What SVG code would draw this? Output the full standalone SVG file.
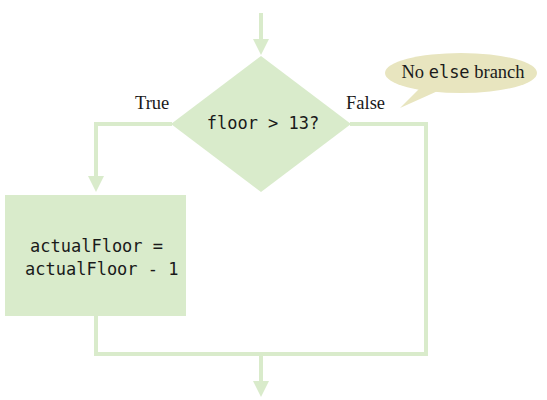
<svg xmlns="http://www.w3.org/2000/svg" width="547" height="400" viewBox="0 0 547 400">
<style>
.ln{fill:none;stroke:#d9ebcb;stroke-width:4}
.nd{fill:#d9ebcb}
.mono{font-family:"DejaVu Sans Mono",monospace;font-size:17px;fill:#1a1a1a}
.ser{font-family:"Liberation Serif",serif;font-size:18.5px;fill:#1a1a1a}
</style>
<defs>
<marker id="ah" markerWidth="4" markerHeight="4" refX="2" refY="2" orient="auto" markerUnits="strokeWidth">
<path d="M0,0 L4,2 L0,4 z" fill="#d9ebcb"/>
</marker>
</defs>
<rect width="547" height="400" fill="#fff"/>
<g id="connectors">
<line class="ln" x1="261" y1="13" x2="261" y2="47" marker-end="url(#ah)"/>
<polyline class="ln" points="172,124 96,124 96,184" marker-end="url(#ah)"/>
<polyline class="ln" points="350,124 426,124 426,354 96,354 96,314"/>
<line class="ln" x1="261" y1="354" x2="261" y2="389" marker-end="url(#ah)"/>
</g>
<g id="decision">
<polygon class="nd" points="261,56 351,124 261,192 171,124"/>
<text class="mono" x="263" y="129" text-anchor="middle">floor &gt; 13?</text>
</g>
<g id="action">
<rect class="nd" x="5" y="195" width="181" height="121"/>
<text class="mono" x="30" y="252">actualFloor =</text>
<text class="mono" x="25" y="275">actualFloor - 1</text>
</g>
<g id="labels">
<text class="ser" x="135" y="109">True</text>
<text class="ser" x="346" y="109">False</text>
</g>
<g id="callout">
<path d="M420,88 L400,108 L440,90 z" fill="#e8e5bf"/>
<ellipse cx="461" cy="73" rx="76" ry="20" fill="#e8e5bf"/>
<text class="ser" x="463" y="78" text-anchor="middle">No <tspan style="font-family:'DejaVu Sans Mono',monospace;font-size:17px">else</tspan> branch</text>
</g>
</svg>
